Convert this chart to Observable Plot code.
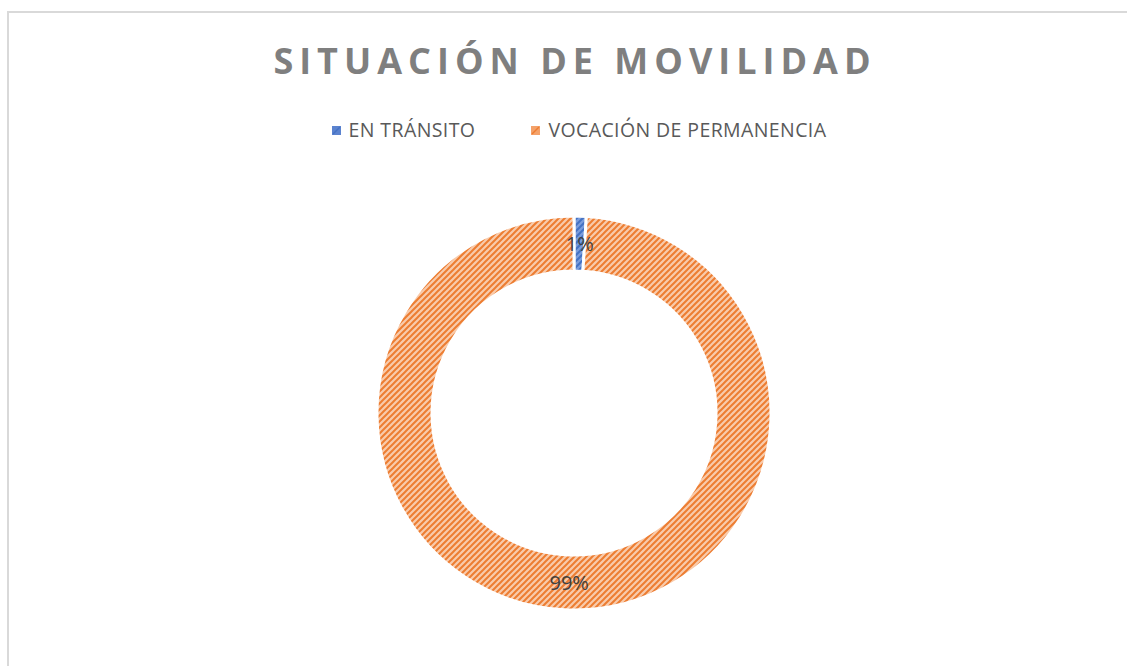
<!DOCTYPE html>
<html>
<head>
<meta charset="utf-8">
<script src="https://cdn.jsdelivr.net/npm/d3@7"></script>
<script src="https://cdn.jsdelivr.net/npm/@observablehq/plot@0.6"></script>
<style>
  html, body { margin: 0; padding: 0; background: #fff; }
  body { width: 1127px; height: 666px; overflow: hidden; position: relative; font-family: "Open Sans", sans-serif; }
  #frame { position: absolute; left: 7px; top: 11px; width: 1200px; height: 700px; border-left: 2px solid #d9d9d9; border-top: 2px solid #d9d9d9; pointer-events: none; }
  #head { position: relative; width: 1150px; height: 160px; }
  #title { position: absolute; left: 0; width: 1150px; top: 43px; text-align: center; font-size: 36px; font-weight: 700; letter-spacing: 6px; color: #7f7f7f; line-height: 1; white-space: nowrap; }
  #legend { position: absolute; left: 4px; width: 1150px; top: 120px; text-align: center; font-size: 19.5px; letter-spacing: 0.4px; color: #595959; white-space: nowrap; line-height: 1; }
  .item { display: inline-block; margin: 0 28px; }
  .sw { display: inline-block; width: 9px; height: 9px; margin-right: 8px; vertical-align: 2px; }
  #chart { position: absolute; left: 0; top: 160px; }
</style>
</head>
<body>
<div id="head">
  <div id="title"></div>
  <div id="legend"></div>
</div>
<div id="chart"></div>
<div id="frame"></div>
<script>
const titleText = "SITUACIÓN DE MOVILIDAD";
const categories = ["EN TRÁNSITO", "VOCACIÓN DE PERMANENCIA"];
const values = [1, 99];
const labels = ["1%", "99%"];
const colors = ["#4472C4", "#ED7D31"];
const lightColors = ["#7b9ddc", "#f9cbab"];

document.getElementById("title").textContent = titleText;

const W = 1127, H = 506;
const cx = 574, cy = 253;
const outerR = 197, innerR = 142;

const pie = d3.pie().sort(null).value(d => d.value).startAngle(0).endAngle(2 * Math.PI);
const table = categories.map((c, i) => ({category: c, value: values[i], label: labels[i], i}));
const arcs = pie(table);
const arcGen = d3.arc().innerRadius(innerR).outerRadius(outerR);
const labelArc = d3.arc().innerRadius((innerR + outerR) / 2).outerRadius((innerR + outerR) / 2);
const labelData = arcs.map(a => {
  const [dx, dy] = labelArc.centroid(a);
  return {label: a.data.label, x: cx + dx, y: cy + dy};
});

function patternDefs() {
  const ns = "http://www.w3.org/2000/svg";
  const defs = document.createElementNS(ns, "defs");
  colors.forEach((c, i) => {
    const p = document.createElementNS(ns, "pattern");
    p.setAttribute("id", "pat" + i);
    p.setAttribute("patternUnits", "userSpaceOnUse");
    p.setAttribute("width", 6);
    p.setAttribute("height", 6);
    const r = document.createElementNS(ns, "rect");
    r.setAttribute("width", 6); r.setAttribute("height", 6);
    r.setAttribute("fill", lightColors[i]);
    p.appendChild(r);
    const path = document.createElementNS(ns, "path");
    path.setAttribute("d", "M-1,7 L7,-1 M-1,1 L1,-1 M5,7 L7,5");
    path.setAttribute("stroke", c);
    path.setAttribute("stroke-width", 2);
    p.appendChild(path);
    defs.appendChild(p);
  });
  return defs;
}

const plot = Plot.plot({
  width: W,
  height: H,
  margin: 0,
  x: {type: "linear", domain: [0, W], range: [0, W], axis: null},
  y: {type: "linear", domain: [0, H], range: [0, H], axis: null},
  style: {background: "transparent", overflow: "visible"},
  marks: [
    (index, scales) => {
      const ns = "http://www.w3.org/2000/svg";
      const g = document.createElementNS(ns, "g");
      g.appendChild(patternDefs());
      const gx = scales.x(cx), gy = scales.y(cy);
      arcs.forEach(a => {
        const path = document.createElementNS(ns, "path");
        path.setAttribute("d", arcGen(a));
        path.setAttribute("transform", `translate(${gx},${gy})`);
        path.setAttribute("fill", `url(#pat${a.data.i})`);
        path.setAttribute("stroke", "#fff");
        path.setAttribute("stroke-width", 3);
        g.appendChild(path);
      });
      return g;
    },
    Plot.text(labelData, {x: "x", y: "y", text: "label", fontSize: 20, fill: "#404040", fontFamily: "Open Sans, sans-serif", textAnchor: "middle", dy: 1})
  ]
});
document.getElementById("chart").appendChild(plot);

// legend
const legend = document.getElementById("legend");
const ns = "http://www.w3.org/2000/svg";
categories.forEach((c, i) => {
  const item = document.createElement("span");
  item.className = "item";
  const sw = document.createElementNS(ns, "svg");
  sw.setAttribute("class", "sw");
  sw.setAttribute("width", 9); sw.setAttribute("height", 9);
  const r = document.createElementNS(ns, "rect");
  r.setAttribute("width", 9); r.setAttribute("height", 9);
  r.setAttribute("fill", i === 0 ? "#5b83cf" : "#f4a26a");
  sw.appendChild(r);
  const l = document.createElementNS(ns, "path");
  l.setAttribute("d", "M1,8 L8,1");
  l.setAttribute("stroke", colors[i]); l.setAttribute("stroke-width", 1.5);
  sw.appendChild(l);
  item.appendChild(sw);
  item.appendChild(document.createTextNode(c));
  legend.appendChild(item);
});
</script>
</body>
</html>
